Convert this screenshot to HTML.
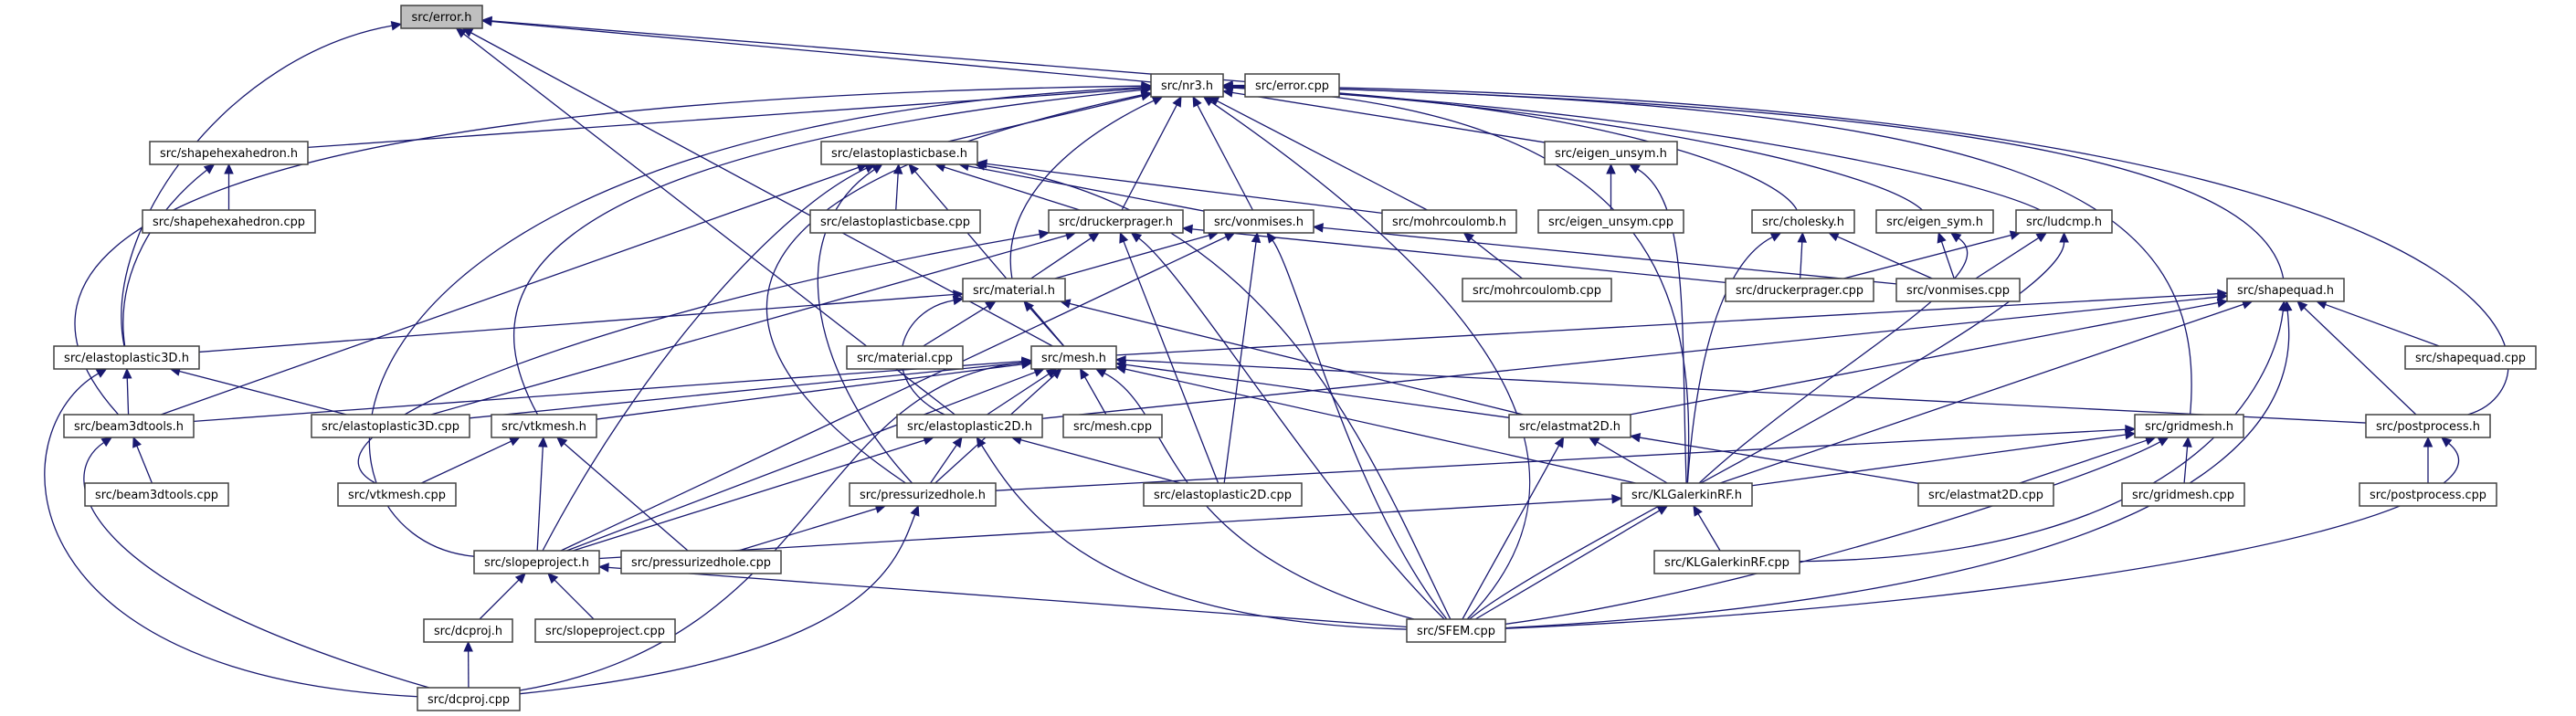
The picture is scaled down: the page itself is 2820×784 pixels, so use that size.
<!DOCTYPE html>
<html><head><meta charset="utf-8"><style>
html,body{margin:0;padding:0;background:#fff;}
svg{display:block;}
text{font-family:"DejaVu Sans","Liberation Sans",sans-serif;font-size:13px;fill:#000;}
</style></head><body>
<svg id="g" width="2820" height="784" viewBox="0 0 2820 784" xmlns="http://www.w3.org/2000/svg">
<g id="edges"></g>
<g id="nodes">
<rect x="439" y="6" width="89" height="25" fill="#bfbfbf" stroke="#404040" stroke-width="1.5"/><text x="483.5" y="23" text-anchor="middle" textLength="66" lengthAdjust="spacingAndGlyphs">src/error.h</text>
<rect x="1260" y="81" width="79" height="25" fill="#fff" stroke="#404040" stroke-width="1.5"/><text x="1299.5" y="98" text-anchor="middle" textLength="57" lengthAdjust="spacingAndGlyphs">src/nr3.h</text>
<rect x="1363" y="81" width="103" height="25" fill="#fff" stroke="#404040" stroke-width="1.5"/><text x="1414.5" y="98" text-anchor="middle" textLength="81" lengthAdjust="spacingAndGlyphs">src/error.cpp</text>
<rect x="164" y="155" width="173" height="25" fill="#fff" stroke="#404040" stroke-width="1.5"/><text x="250.5" y="172" text-anchor="middle" textLength="151" lengthAdjust="spacingAndGlyphs">src/shapehexahedron.h</text>
<rect x="899" y="155" width="171" height="25" fill="#fff" stroke="#404040" stroke-width="1.5"/><text x="984.5" y="172" text-anchor="middle" textLength="149" lengthAdjust="spacingAndGlyphs">src/elastoplasticbase.h</text>
<rect x="1691" y="155" width="145" height="25" fill="#fff" stroke="#404040" stroke-width="1.5"/><text x="1763.5" y="172" text-anchor="middle" textLength="123" lengthAdjust="spacingAndGlyphs">src/eigen_unsym.h</text>
<rect x="156" y="230" width="189" height="25" fill="#fff" stroke="#404040" stroke-width="1.5"/><text x="250.5" y="247" text-anchor="middle" textLength="167" lengthAdjust="spacingAndGlyphs">src/shapehexahedron.cpp</text>
<rect x="887" y="230" width="186" height="25" fill="#fff" stroke="#404040" stroke-width="1.5"/><text x="980" y="247" text-anchor="middle" textLength="164" lengthAdjust="spacingAndGlyphs">src/elastoplasticbase.cpp</text>
<rect x="1148" y="230" width="147" height="25" fill="#fff" stroke="#404040" stroke-width="1.5"/><text x="1221.5" y="247" text-anchor="middle" textLength="125" lengthAdjust="spacingAndGlyphs">src/druckerprager.h</text>
<rect x="1318" y="230" width="120" height="25" fill="#fff" stroke="#404040" stroke-width="1.5"/><text x="1378" y="247" text-anchor="middle" textLength="98" lengthAdjust="spacingAndGlyphs">src/vonmises.h</text>
<rect x="1513" y="230" width="147" height="25" fill="#fff" stroke="#404040" stroke-width="1.5"/><text x="1586.5" y="247" text-anchor="middle" textLength="125" lengthAdjust="spacingAndGlyphs">src/mohrcoulomb.h</text>
<rect x="1684" y="230" width="159" height="25" fill="#fff" stroke="#404040" stroke-width="1.5"/><text x="1763.5" y="247" text-anchor="middle" textLength="137" lengthAdjust="spacingAndGlyphs">src/eigen_unsym.cpp</text>
<rect x="1918" y="230" width="112" height="25" fill="#fff" stroke="#404040" stroke-width="1.5"/><text x="1974" y="247" text-anchor="middle" textLength="90" lengthAdjust="spacingAndGlyphs">src/cholesky.h</text>
<rect x="2054" y="230" width="128" height="25" fill="#fff" stroke="#404040" stroke-width="1.5"/><text x="2118" y="247" text-anchor="middle" textLength="106" lengthAdjust="spacingAndGlyphs">src/eigen_sym.h</text>
<rect x="2207" y="230" width="105" height="25" fill="#fff" stroke="#404040" stroke-width="1.5"/><text x="2259.5" y="247" text-anchor="middle" textLength="83" lengthAdjust="spacingAndGlyphs">src/ludcmp.h</text>
<rect x="1054" y="305" width="112" height="25" fill="#fff" stroke="#404040" stroke-width="1.5"/><text x="1110" y="322" text-anchor="middle" textLength="90" lengthAdjust="spacingAndGlyphs">src/material.h</text>
<rect x="1601" y="305" width="163" height="25" fill="#fff" stroke="#404040" stroke-width="1.5"/><text x="1682.5" y="322" text-anchor="middle" textLength="141" lengthAdjust="spacingAndGlyphs">src/mohrcoulomb.cpp</text>
<rect x="1889" y="305" width="162" height="25" fill="#fff" stroke="#404040" stroke-width="1.5"/><text x="1970" y="322" text-anchor="middle" textLength="140" lengthAdjust="spacingAndGlyphs">src/druckerprager.cpp</text>
<rect x="2076" y="305" width="135" height="25" fill="#fff" stroke="#404040" stroke-width="1.5"/><text x="2143.5" y="322" text-anchor="middle" textLength="113" lengthAdjust="spacingAndGlyphs">src/vonmises.cpp</text>
<rect x="2438" y="305" width="128" height="25" fill="#fff" stroke="#404040" stroke-width="1.5"/><text x="2502" y="322" text-anchor="middle" textLength="106" lengthAdjust="spacingAndGlyphs">src/shapequad.h</text>
<rect x="59" y="379" width="159" height="25" fill="#fff" stroke="#404040" stroke-width="1.5"/><text x="138.5" y="396" text-anchor="middle" textLength="137" lengthAdjust="spacingAndGlyphs">src/elastoplastic3D.h</text>
<rect x="927" y="379" width="127" height="25" fill="#fff" stroke="#404040" stroke-width="1.5"/><text x="990.5" y="396" text-anchor="middle" textLength="105" lengthAdjust="spacingAndGlyphs">src/material.cpp</text>
<rect x="1129" y="379" width="93" height="25" fill="#fff" stroke="#404040" stroke-width="1.5"/><text x="1175.5" y="396" text-anchor="middle" textLength="71" lengthAdjust="spacingAndGlyphs">src/mesh.h</text>
<rect x="2633" y="379" width="143" height="25" fill="#fff" stroke="#404040" stroke-width="1.5"/><text x="2704.5" y="396" text-anchor="middle" textLength="121" lengthAdjust="spacingAndGlyphs">src/shapequad.cpp</text>
<rect x="70" y="454" width="142" height="25" fill="#fff" stroke="#404040" stroke-width="1.5"/><text x="141" y="471" text-anchor="middle" textLength="120" lengthAdjust="spacingAndGlyphs">src/beam3dtools.h</text>
<rect x="341" y="454" width="173" height="25" fill="#fff" stroke="#404040" stroke-width="1.5"/><text x="427.5" y="471" text-anchor="middle" textLength="151" lengthAdjust="spacingAndGlyphs">src/elastoplastic3D.cpp</text>
<rect x="538" y="454" width="115" height="25" fill="#fff" stroke="#404040" stroke-width="1.5"/><text x="595.5" y="471" text-anchor="middle" textLength="93" lengthAdjust="spacingAndGlyphs">src/vtkmesh.h</text>
<rect x="982" y="454" width="159" height="25" fill="#fff" stroke="#404040" stroke-width="1.5"/><text x="1061.5" y="471" text-anchor="middle" textLength="137" lengthAdjust="spacingAndGlyphs">src/elastoplastic2D.h</text>
<rect x="1164" y="454" width="108" height="25" fill="#fff" stroke="#404040" stroke-width="1.5"/><text x="1218" y="471" text-anchor="middle" textLength="86" lengthAdjust="spacingAndGlyphs">src/mesh.cpp</text>
<rect x="1652" y="454" width="133" height="25" fill="#fff" stroke="#404040" stroke-width="1.5"/><text x="1718.5" y="471" text-anchor="middle" textLength="111" lengthAdjust="spacingAndGlyphs">src/elastmat2D.h</text>
<rect x="2337" y="454" width="119" height="25" fill="#fff" stroke="#404040" stroke-width="1.5"/><text x="2396.5" y="471" text-anchor="middle" textLength="97" lengthAdjust="spacingAndGlyphs">src/gridmesh.h</text>
<rect x="2590" y="454" width="136" height="25" fill="#fff" stroke="#404040" stroke-width="1.5"/><text x="2658" y="471" text-anchor="middle" textLength="114" lengthAdjust="spacingAndGlyphs">src/postprocess.h</text>
<rect x="93" y="529" width="157" height="25" fill="#fff" stroke="#404040" stroke-width="1.5"/><text x="171.5" y="546" text-anchor="middle" textLength="135" lengthAdjust="spacingAndGlyphs">src/beam3dtools.cpp</text>
<rect x="370" y="529" width="129" height="25" fill="#fff" stroke="#404040" stroke-width="1.5"/><text x="434.5" y="546" text-anchor="middle" textLength="107" lengthAdjust="spacingAndGlyphs">src/vtkmesh.cpp</text>
<rect x="930" y="529" width="160" height="25" fill="#fff" stroke="#404040" stroke-width="1.5"/><text x="1010" y="546" text-anchor="middle" textLength="138" lengthAdjust="spacingAndGlyphs">src/pressurizedhole.h</text>
<rect x="1252" y="529" width="173" height="25" fill="#fff" stroke="#404040" stroke-width="1.5"/><text x="1338.5" y="546" text-anchor="middle" textLength="151" lengthAdjust="spacingAndGlyphs">src/elastoplastic2D.cpp</text>
<rect x="1775" y="529" width="143" height="25" fill="#fff" stroke="#404040" stroke-width="1.5"/><text x="1846.5" y="546" text-anchor="middle" textLength="121" lengthAdjust="spacingAndGlyphs">src/KLGalerkinRF.h</text>
<rect x="2100" y="529" width="148" height="25" fill="#fff" stroke="#404040" stroke-width="1.5"/><text x="2174" y="546" text-anchor="middle" textLength="126" lengthAdjust="spacingAndGlyphs">src/elastmat2D.cpp</text>
<rect x="2323" y="529" width="134" height="25" fill="#fff" stroke="#404040" stroke-width="1.5"/><text x="2390" y="546" text-anchor="middle" textLength="112" lengthAdjust="spacingAndGlyphs">src/gridmesh.cpp</text>
<rect x="2583" y="529" width="150" height="25" fill="#fff" stroke="#404040" stroke-width="1.5"/><text x="2658" y="546" text-anchor="middle" textLength="128" lengthAdjust="spacingAndGlyphs">src/postprocess.cpp</text>
<rect x="519" y="603" width="137" height="25" fill="#fff" stroke="#404040" stroke-width="1.5"/><text x="587.5" y="620" text-anchor="middle" textLength="115" lengthAdjust="spacingAndGlyphs">src/slopeproject.h</text>
<rect x="680" y="603" width="175" height="25" fill="#fff" stroke="#404040" stroke-width="1.5"/><text x="767.5" y="620" text-anchor="middle" textLength="153" lengthAdjust="spacingAndGlyphs">src/pressurizedhole.cpp</text>
<rect x="1811" y="603" width="159" height="25" fill="#fff" stroke="#404040" stroke-width="1.5"/><text x="1890.5" y="620" text-anchor="middle" textLength="137" lengthAdjust="spacingAndGlyphs">src/KLGalerkinRF.cpp</text>
<rect x="464" y="678" width="97" height="25" fill="#fff" stroke="#404040" stroke-width="1.5"/><text x="512.5" y="695" text-anchor="middle" textLength="75" lengthAdjust="spacingAndGlyphs">src/dcproj.h</text>
<rect x="586" y="678" width="153" height="25" fill="#fff" stroke="#404040" stroke-width="1.5"/><text x="662.5" y="695" text-anchor="middle" textLength="131" lengthAdjust="spacingAndGlyphs">src/slopeproject.cpp</text>
<rect x="1540" y="678" width="108" height="25" fill="#fff" stroke="#404040" stroke-width="1.5"/><text x="1594" y="695" text-anchor="middle" textLength="86" lengthAdjust="spacingAndGlyphs">src/SFEM.cpp</text>
<rect x="457" y="753" width="112" height="25" fill="#fff" stroke="#404040" stroke-width="1.5"/><text x="513" y="770" text-anchor="middle" textLength="90" lengthAdjust="spacingAndGlyphs">src/dcproj.cpp</text>
</g>
</svg>
<script>
var N={};
document.querySelectorAll('#nodes rect').forEach(function(r){
  var t=r.nextElementSibling.textContent.replace('src/','');
  var x=+r.getAttribute('x'),y=+r.getAttribute('y'),w=+r.getAttribute('width'),h=+r.getAttribute('height');
  N[t]={x1:x,y1:y,x2:x+w,y2:y+h,cx:x+w/2,cy:y+h/2,hw:w/2,hh:h/2};
});
function clip(r,px,py){
  var dx=px-r.cx,dy=py-r.cy;
  var t=Math.min(dx?r.hw/Math.abs(dx):1e9,dy?r.hh/Math.abs(dy):1e9);
  if(t>1)t=1;
  return [r.cx+dx*t,r.cy+dy*t];
}
var E=[
['nr3.h','error.h'],['error.cpp','error.h'],['error.cpp','nr3.h'],
['elastoplastic3D.h','error.h',[110,250],[250,60]],
['mesh.h','error.h'],['elastoplastic2D.h','error.h'],
['shapehexahedron.h','nr3.h'],['elastoplasticbase.h','nr3.h'],
['material.h','nr3.h',[1090,200],[1220,130]],
['druckerprager.h','nr3.h'],['vonmises.h','nr3.h'],['mohrcoulomb.h','nr3.h'],['eigen_unsym.h','nr3.h'],
['cholesky.h','nr3.h',[1940,180],[1700,108]],
['eigen_sym.h','nr3.h',[2050,180],[1700,112]],
['ludcmp.h','nr3.h',[2150,190],[1800,118]],
['gridmesh.h','nr3.h',[2420,200],[2200,112]],
['shapequad.h','nr3.h',[2480,200],[2250,115]],
['postprocess.h','nr3.h',[2820,420],[2800,110]],
['KLGalerkinRF.h','nr3.h',[1860,300],[1800,120]],
['vtkmesh.h','nr3.h',[520,330],[540,170]],
['beam3dtools.h','nr3.h',[-10,300],[100,110]],
['slopeproject.h','nr3.h',[310,590],[300,140]],
['pressurizedhole.h','nr3.h',[800,400],[700,220]],
['SFEM.cpp','nr3.h',[1780,500],[1600,300]],
['shapehexahedron.cpp','shapehexahedron.h'],
['elastoplastic3D.h','shapehexahedron.h',[125,300],[170,230]],
['elastoplasticbase.cpp','elastoplasticbase.h'],
['druckerprager.h','elastoplasticbase.h'],['vonmises.h','elastoplasticbase.h'],['mohrcoulomb.h','elastoplasticbase.h'],
['beam3dtools.h','elastoplasticbase.h'],
['slopeproject.h','elastoplasticbase.h',[700,400],[850,230]],
['pressurizedhole.h','elastoplasticbase.h',[880,400],[860,250]],
['mesh.h','elastoplasticbase.h'],
['SFEM.cpp','elastoplasticbase.h',[1500,500],[1400,230]],
['druckerprager.cpp','druckerprager.h'],['vonmises.cpp','vonmises.h'],
['material.h','druckerprager.h'],['material.h','vonmises.h'],
['elastoplastic3D.cpp','druckerprager.h'],['vtkmesh.cpp','druckerprager.h',[300,470],[700,330]],
['elastoplastic2D.cpp','druckerprager.h'],['elastoplastic2D.cpp','vonmises.h'],
['SFEM.cpp','druckerprager.h',[1450,550],[1300,300]],['SFEM.cpp','vonmises.h',[1480,550],[1420,300]],
['slopeproject.h','vonmises.h'],
['elastoplastic3D.h','material.h'],['material.cpp','material.h'],['mesh.h','material.h'],['elastmat2D.h','material.h'],
['elastoplastic2D.h','material.h',[960,420],[980,340]],
['mohrcoulomb.cpp','mohrcoulomb.h'],['eigen_unsym.cpp','eigen_unsym.h'],
['KLGalerkinRF.h','eigen_unsym.h',[1840,350],[1850,220]],
['druckerprager.cpp','cholesky.h'],['vonmises.cpp','cholesky.h'],['KLGalerkinRF.h','cholesky.h',[1860,350],[1900,280]],
['vonmises.cpp','eigen_sym.h'],['KLGalerkinRF.h','eigen_sym.h',[2000,400],[2200,300]],
['druckerprager.cpp','ludcmp.h'],['vonmises.cpp','ludcmp.h'],
['SFEM.cpp','ludcmp.h',[1700,600],[2260,340]],
['mesh.h','shapequad.h'],['elastoplastic2D.h','shapequad.h'],['elastmat2D.h','shapequad.h'],['KLGalerkinRF.h','shapequad.h'],
['shapequad.cpp','shapequad.h'],['postprocess.h','shapequad.h'],
['SFEM.cpp','shapequad.h',[2540,640],[2510,400]],['KLGalerkinRF.cpp','shapequad.h',[2400,610],[2490,420]],
['mesh.cpp','mesh.h'],['elastoplastic2D.h','mesh.h'],['pressurizedhole.h','mesh.h'],
['slopeproject.h','mesh.h'],['beam3dtools.h','mesh.h'],['vtkmesh.h','mesh.h'],['elastoplastic3D.cpp','mesh.h'],
['KLGalerkinRF.h','mesh.h'],['elastmat2D.h','mesh.h'],['postprocess.h','mesh.h'],
['SFEM.cpp','mesh.h',[1260,600],[1290,450]],
['dcproj.cpp','mesh.h',[900,700],[890,420]],
['pressurizedhole.h','elastoplastic2D.h'],['elastoplastic2D.cpp','elastoplastic2D.h'],['slopeproject.h','elastoplastic2D.h'],
['SFEM.cpp','elastoplastic2D.h',[1200,680],[1120,560]],
['vtkmesh.cpp','vtkmesh.h'],['slopeproject.h','vtkmesh.h'],['pressurizedhole.cpp','vtkmesh.h'],
['beam3dtools.cpp','beam3dtools.h'],['dcproj.cpp','beam3dtools.h',[80,640],[60,520]],
['beam3dtools.h','elastoplastic3D.h'],['elastoplastic3D.cpp','elastoplastic3D.h'],
['dcproj.cpp','elastoplastic3D.h',[0,740],[0,470]],
['pressurizedhole.cpp','pressurizedhole.h'],['dcproj.cpp','pressurizedhole.h',[950,720],[980,620]],
['dcproj.h','slopeproject.h'],['slopeproject.cpp','slopeproject.h'],['SFEM.cpp','slopeproject.h'],
['dcproj.cpp','dcproj.h'],
['elastmat2D.cpp','elastmat2D.h'],['KLGalerkinRF.h','elastmat2D.h'],['SFEM.cpp','elastmat2D.h'],
['KLGalerkinRF.cpp','KLGalerkinRF.h'],['SFEM.cpp','KLGalerkinRF.h'],['slopeproject.h','KLGalerkinRF.h'],
['gridmesh.cpp','gridmesh.h'],['elastmat2D.cpp','gridmesh.h'],['KLGalerkinRF.h','gridmesh.h'],['pressurizedhole.h','gridmesh.h'],
['SFEM.cpp','gridmesh.h',[1900,650],[2280,530]],
['postprocess.cpp','postprocess.h'],['SFEM.cpp','postprocess.h',[2300,660],[2770,560]]
];
var out='';
E.forEach(function(e){
  var a=N[e[0]],b=N[e[1]];
  if(!a||!b)return;
  var c1=e[2],c2=e[3],p0,p3,dx,dy;
  if(c1){p0=clip(a,c1[0],c1[1]);p3=clip(b,c2[0],c2[1]);dx=p3[0]-c2[0];dy=p3[1]-c2[1];}
  else{p0=clip(a,b.cx,b.cy);p3=clip(b,a.cx,a.cy);dx=p3[0]-p0[0];dy=p3[1]-p0[1];}
  var L=Math.sqrt(dx*dx+dy*dy)||1;dx/=L;dy/=L;
  var bx=p3[0]-dx*10,by=p3[1]-dy*10;
  if(c1) out+='<path d="M'+p0[0]+','+p0[1]+' C'+c1[0]+','+c1[1]+' '+c2[0]+','+c2[1]+' '+bx+','+by+'" fill="none" stroke="#191970" stroke-width="1.3"/>';
  else out+='<path d="M'+p0[0]+','+p0[1]+' L'+bx+','+by+'" fill="none" stroke="#191970" stroke-width="1.3"/>';
  var px=-dy,py=dx;
  out+='<polygon points="'+p3[0]+','+p3[1]+' '+(bx+px*4.5)+','+(by+py*4.5)+' '+(bx-px*4.5)+','+(by-py*4.5)+'" fill="#191970" stroke="#191970"/>';
});
document.getElementById('edges').innerHTML=out;
</script>
</body></html>
